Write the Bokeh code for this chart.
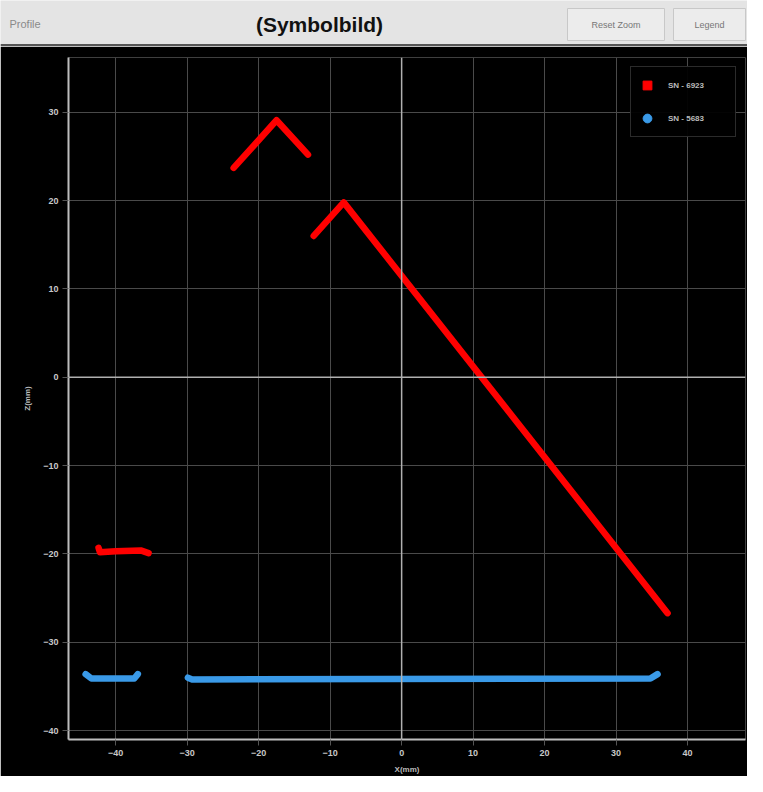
from bokeh.plotting import figure
from bokeh.models import Span, Legend, LegendItem, Range1d, FixedTicker
from bokeh.core.properties import value
from bokeh.embed import file_html
from bokeh.resources import INLINE

# ---- data ----
x_ticks = [-40, -30, -20, -10, 0, 10, 20, 30, 40]
y_ticks = [-40, -30, -20, -10, 0, 10, 20, 30]

red_a_x = [-23.5, -17.5, -13.1]
red_a_y = [23.7, 29.1, 25.2]
red_b_x = [-12.3, -8.1, 37.2]
red_b_y = [16.0, 19.8, -26.7]
red_c_x = [-42.4, -42.2, -40.0, -36.5, -35.4]
red_c_y = [-19.3, -19.8, -19.7, -19.6, -19.9]

blue_a_x = [-44.2, -43.4, -37.4, -36.9]
blue_a_y = [-33.6, -34.1, -34.1, -33.6]
blue_b_x = [-29.9, -29.3, 34.8, 35.8]
blue_b_y = [-34.0, -34.2, -34.1, -33.6]

series_names = ["SN - 6923", "SN - 5683"]
header_title = "(Symbolbild)"
header_left = "Profile"
buttons = ["Reset Zoom", "Legend"]
RED = "#ff0000"
BLUE = "#3a9ae8"
NAN = float("nan")

W = 747
HH = 46

# ---- header bar ----
h = figure(width=W, height=HH, x_range=Range1d(0, W), y_range=Range1d(0, HH),
           output_backend="svg", toolbar_location=None, min_border=0)
h.axis.visible = False
h.grid.visible = False
h.outline_line_color = None
h.background_fill_color = "#e4e4e4"
h.border_fill_color = "#e4e4e4"
h.text(x=[9], y=[23], text=[header_left], text_font=value("Liberation Sans"),
       text_font_size="11px", text_color="#8a8a8a", text_baseline="middle")
h.text(x=[319], y=[22], text=[header_title], text_font=value("Liberation Sans"),
       text_font_size="21px", text_font_style="bold", text_color="#111111",
       text_baseline="middle", text_align="center")
h.quad(left=[567, 673], right=[664, 745], bottom=[6, 6], top=[38, 38],
       fill_color="#ececec", line_color="#c8c8c8")
h.text(x=[615.5, 709], y=[22, 22], text=buttons,
       text_font=value("Liberation Sans"), text_font_size="9px",
       text_color="#777777", text_align="center", text_baseline="middle")
h.segment(x0=[0], y0=[1], x1=[W], y1=[1], line_color="#555555", line_width=3)

# ---- main plot ----
p = figure(width=W, height=730, x_range=Range1d(-46.6, 48.1), y_range=Range1d(-41.0, 36.2),
           output_backend="svg", toolbar_location=None,
           min_border_left=68, min_border_right=2, min_border_top=11, min_border_bottom=32)
p.background_fill_color = "black"
p.border_fill_color = "black"
p.outline_line_color = None

p.xaxis.ticker = FixedTicker(ticks=x_ticks)
p.yaxis.ticker = FixedTicker(ticks=y_ticks)
for ax in (p.xaxis, p.yaxis):
    ax.axis_line_color = "#bdbdbd"
    ax.axis_line_width = 2
    ax.major_tick_line_color = "#555555"
    ax.major_tick_out = 6
    ax.major_tick_in = 0
    ax.minor_tick_line_color = None
    ax.major_label_standoff = 4
    ax.major_label_text_color = "#c8c8c8"
    ax.major_label_text_font_size = "9px"
    ax.major_label_text_font_style = "bold"
    ax.major_label_text_font = "Liberation Sans"
    ax.axis_label_text_color = "#bbbbbb"
    ax.axis_label_text_font_size = "8px"
    ax.axis_label_text_font_style = "bold"
    ax.axis_label_text_font = "Liberation Sans"
    ax.axis_label_standoff = 6
p.xaxis.axis_label = "X(mm)"
p.yaxis.axis_label = "Z(mm)"
p.yaxis.axis_label_standoff = 8

p.grid.grid_line_color = "#4a4a4a"
p.grid.grid_line_width = 1
p.add_layout(Span(location=0, dimension="width", line_color="#b0b0b0", line_width=1.5))
p.add_layout(Span(location=0, dimension="height", line_color="#b0b0b0", line_width=1.5))

for xs, ys in ((red_a_x, red_a_y), (red_b_x, red_b_y), (red_c_x, red_c_y)):
    p.line(xs, ys, line_color=RED, line_width=6.5, line_cap="round", line_join="round")
for xs, ys in ((blue_a_x, blue_a_y), (blue_b_x, blue_b_y)):
    p.line(xs, ys, line_color=BLUE, line_width=6.5, line_cap="round", line_join="round")

r_leg = p.scatter([NAN], [NAN], marker="square", size=10, fill_color=RED, line_color=RED)
b_leg = p.scatter([NAN], [NAN], marker="circle", size=11, fill_color=BLUE, line_color=BLUE)
legend = Legend(items=[LegendItem(label=series_names[0], renderers=[r_leg]),
                       LegendItem(label=series_names[1], renderers=[b_leg])],
                location="top_right")
legend.background_fill_color = "black"
legend.border_line_color = "#555555"
legend.label_text_color = "#bbbbbb"
legend.label_text_font_size = "8px"
legend.label_text_font_style = "bold"
legend.label_text_font = "Liberation Sans"
legend.padding = 5
legend.spacing = 7
legend.margin = 9
legend.glyph_width = 22
legend.glyph_height = 26
legend.label_height = 26
legend.label_width = 62
legend.label_standoff = 10
p.add_layout(legend)

open("out.html", "w").write(file_html([h, p], INLINE))
